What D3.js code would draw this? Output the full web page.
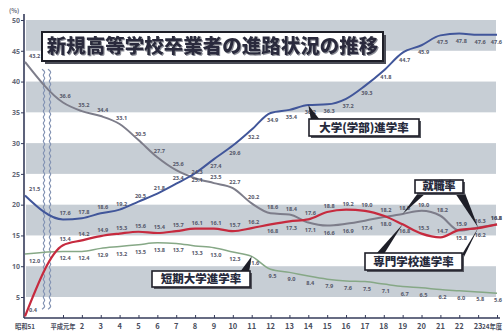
<!DOCTYPE html>
<html>
<head>
<meta charset="utf-8">
<script src="https://cdn.jsdelivr.net/npm/d3@7/dist/d3.min.js"></script>
<style>
  html, body { margin: 0; padding: 0; background: #ffffff; }
  svg { display: block; font-family: "Noto Sans CJK JP", "Noto Sans", sans-serif; }
</style>
</head>
<body>
<svg id="chart" width="503" height="334">
  <defs>
    <filter id="titleShadow" x="-5%" y="-20%" width="110%" height="150%">
      <feDropShadow dx="1" dy="1" stdDeviation="0.4" flood-color="#8a8c96" flood-opacity="1"/>
    </filter>
  </defs>
</svg>
<script>
// ---- data (%), 昭和51年 then 平成元年〜24年 ----
const categories = ["昭和51", "平成元年", "2", "3", "4", "5", "6", "7", "8", "9", "10", "11", "12",
  "13", "14", "15", "16", "17", "18", "19", "20", "21", "22", "23", "24年度"];
const universityRate = [21.5, 17.6, 17.8, 18.6, 19.2, 20.5, 21.8, 23.4, 25.1, 27.4, 29.6, 32.2, 34.9,
  35.4, 36.2, 36.3, 37.2, 39.3, 41.8, 44.7, 45.9, 47.5, 47.8, 47.6, 47.6];
const employmentRate = [43.2, 36.6, 35.2, 34.4, 33.1, 30.5, 27.7, 25.6, 24.3, 23.5, 22.7, 20.2, 18.6,
  18.4, 17.1, 16.6, 16.9, 17.4, 18.0, 18.5, 19.0, 18.2, 15.8, 16.3, 16.8];
const vocationalRate = [0.4, 13.4, 14.2, 14.9, 15.3, 15.6, 15.4, 15.7, 16.1, 16.1, 15.7, 16.2, 16.8,
  17.3, 17.6, 18.8, 19.2, 19.0, 18.2, 16.8, 15.3, 14.7, 15.9, 16.2, 16.8];
const juniorCollegeRate = [12.0, 12.4, 12.4, 12.9, 13.2, 13.5, 13.8, 13.7, 13.3, 13.0, 12.3, 11.6, 9.5,
  9.0, 8.4, 7.9, 7.6, 7.5, 7.1, 6.7, 6.5, 6.2, 6.0, 5.8, 5.6];
const yTicks = [5, 10, 15, 20, 25, 30, 35, 40, 45, 50];
const titleText = "新規高等学校卒業者の進路状況の推移";

const svg = d3.select("#chart");
const last = categories.length - 1;

// index 0 (昭和51) sits before the axis break; 平成元年〜24年 are evenly spaced after it
const idx = d3.range(categories.length);
const x = d3.scaleLinear().domain([0, 1, last]).range([25, 63, 497]);
const y = d3.scaleLinear().domain([0, 5, 50]).range([318, 297, 20]);

// alternating shaded bands
const bands = yTicks.filter(t => t % 10 === 0).map(t => [t - 5, t]);
svg.append("g").selectAll("rect").data(bands).join("rect")
  .attr("x", 26).attr("width", 470)
  .attr("y", d => y(d[1])).attr("height", d => y(d[0]) - y(d[1]))
  .attr("fill", "#c7ced5");

// axis break between 昭和51 and 平成元年
const breakX = (x(0) + x(1)) / 2 + 3;
const wave = d3.range(y(42), y(1.6), 3).map((yy, k) => [k % 2 ? 2 : -2, yy]);
[-3, 3].forEach(off => {
  svg.append("path")
    .attr("d", d3.line().x(p => breakX + off + p[0]).y(p => p[1]).curve(d3.curveBasis)(wave))
    .attr("fill", "none").attr("stroke", "#8393b3").attr("stroke-width", 1.2);
});

// y axis
const yAxis = svg.append("g").attr("transform", `translate(${x(0) - 1},0)`)
  .call(d3.axisLeft(y).tickValues(yTicks).tickSize(3).tickPadding(1));
yAxis.select(".domain").attr("d", `M0,${y(50) - 6}V${y(0)}`).attr("stroke", "#353b5a").attr("stroke-width", 1.6);
yAxis.selectAll(".tick line").attr("stroke", "#353b5a");
yAxis.selectAll(".tick text").attr("font-size", 7).attr("fill", "#666a78")
  .attr("font-family", "'Noto Sans', sans-serif").attr("font-weight", 700);
svg.append("text").attr("x", 9).attr("y", 13).attr("font-size", 6).attr("fill", "#666a78")
  .attr("font-weight", 700).text("(%)");

// x axis
const xAxis = svg.append("g").attr("transform", `translate(0,${y(0)})`)
  .call(d3.axisTop(x).tickValues(idx.slice(1)).tickSize(3).tickFormat(() => ""));
xAxis.select(".domain").attr("d", `M${x(0) - 1},0H500`).attr("stroke", "#353b5a").attr("stroke-width", 1.6);
xAxis.selectAll(".tick line").attr("stroke", "#353b5a");
svg.append("g").selectAll("text").data(idx).join("text")
  .attr("x", i => i === last ? 502 : x(i))
  .attr("y", 329)
  .attr("text-anchor", i => i === last ? "end" : "middle")
  .attr("font-size", i => (i <= 1 || i === last) ? 6.3 : 7.5)
  .attr("fill", "#4a4e5e").attr("font-weight", 700)
  .text(i => categories[i]);

// series lines
const series = [
  { values: juniorCollegeRate, color: "#86a886", width: 1.5 },
  { values: employmentRate, color: "#7d7d8a", width: 2 },
  { values: vocationalRate, color: "#c62a3e", width: 2.2 },
  { values: universityRate, color: "#41569a", width: 2 }
];
const line = d3.line().x((d, i) => x(i)).y(d => y(d)).curve(d3.curveMonotoneX);
series.forEach(s => {
  svg.append("path").attr("d", line(s.values)).attr("fill", "none")
    .attr("stroke", s.color).attr("stroke-width", s.width).attr("stroke-linejoin", "round");
});

// value labels: placed on the side away from a nearby crossing line
function side(values, i) {
  if (values === universityRate) return universityRate[i] < employmentRate[i] ? -1 : 1;
  if (values === juniorCollegeRate) return 1;
  const other = values === employmentRate ? vocationalRate : employmentRate;
  return (other[i] > values[i] && other[i] - values[i] < 3) ? 1 : -1;
}
series.forEach(s => {
  svg.append("g").selectAll("text").data(s.values).join("text")
    .attr("x", (d, i) => i === 0 ? x(i) + 4 : i === last ? 502 : x(i) + 2)
    .attr("y", (d, i) => y(d) + (side(s.values, i) < 0 ? -4 : 9))
    .attr("text-anchor", (d, i) => i === 0 ? "start" : i === last ? "end" : "middle")
    .attr("font-size", 5.6).attr("font-weight", 700).attr("fill", "#55586a")
    .attr("font-family", "'Noto Sans', sans-serif")
    .text(d => d.toFixed(1));
});

// callout boxes with pointers
const callouts = [
  { text: "大学(学部)進学率", box: [309, 119, 110, 17], size: 11.5,
    pointers: [{ base: [[311, 120], [320, 120]], values: universityRate, i: 14 }] },
  { text: "就職率", box: [415, 180, 48, 13], size: 11,
    pointers: [{ base: [[418, 193], [426, 193]], values: employmentRate, i: 19 },
               { base: [[455, 193], [463, 188]], values: employmentRate, i: 23 }] },
  { text: "専門学校進学率", box: [365, 253, 97, 17], size: 11.5,
    pointers: [{ base: [[376, 254], [384, 254]], values: vocationalRate, i: 19 },
               { base: [[461, 256], [461, 263]], values: vocationalRate, i: 23 }] },
  { text: "短期大学進学率", box: [152, 271, 98, 16], size: 11.5,
    pointers: [{ base: [[240, 272], [249, 272]], values: juniorCollegeRate, i: 11 }] }
];
callouts.forEach(c => {
  const [bx, by, bw, bh] = c.box;
  c.pointers.forEach(p => {
    const tip = [x(p.i), y(p.values[p.i])];
    svg.append("path").attr("d", d3.line()([p.base[0], tip, p.base[1]]) + "Z").attr("fill", "#1e1f28");
  });
  svg.append("rect").attr("x", bx + 2).attr("y", by + 2).attr("width", bw).attr("height", bh).attr("fill", "#55575f");
  svg.append("rect").attr("x", bx).attr("y", by).attr("width", bw).attr("height", bh)
    .attr("fill", "#ffffff").attr("stroke", "#1e1f28").attr("stroke-width", 1.6);
  svg.append("text").attr("x", bx + bw / 2).attr("y", by + bh / 2 + c.size * 0.36)
    .attr("text-anchor", "middle").attr("font-size", c.size).attr("font-weight", 900)
    .attr("fill", "#262a3c").text(c.text);
});

// title box
svg.append("rect").attr("x", 45).attr("y", 35).attr("width", 341).attr("height", 29).attr("fill", "#4a4c56");
svg.append("rect").attr("x", 42).attr("y", 32).attr("width", 341).attr("height", 29)
  .attr("fill", "#ffffff").attr("stroke", "#1e1f28").attr("stroke-width", 2);
svg.append("text").attr("x", 212.5).attr("y", 53).attr("text-anchor", "middle")
  .attr("font-size", 19.5).attr("font-weight", 900).attr("fill", "#2a2c3c")
  .attr("filter", "url(#titleShadow)").text(titleText);
</script>
</body>
</html>
